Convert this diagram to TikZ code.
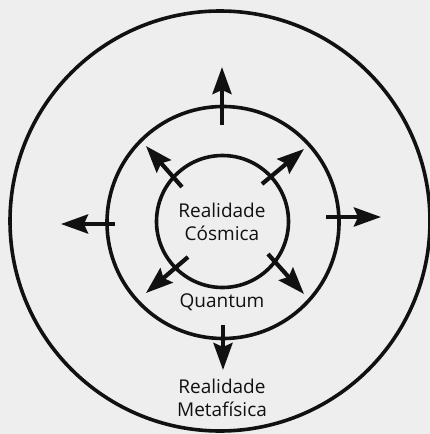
\documentclass[tikz,border=0pt]{standalone}
\usepackage{fontspec}
\setmainfont{Open Sans}
\usetikzlibrary{arrows.meta}
\definecolor{bg}{HTML}{EEEEEE}
\definecolor{ink}{HTML}{111111}
\begin{document}
\begin{tikzpicture}[x=1pt,y=-1pt,
  ring/.style={draw=ink,line width=3.6pt,circle,inner sep=0pt},
  outarrow/.style={draw=ink,line width=4.2pt,-{Stealth[length=27pt,width=19pt,inset=4pt]}},
  lbl/.style={text=ink,font=\fontsize{19}{23}\selectfont,align=center,inner sep=0pt}]
\fill[bg] (0,0) rectangle (430,434);
\useasboundingbox (0,0) rectangle (430,434);
\node[ring,minimum size=420pt] (outer) at (220,221) {};
\node[ring,minimum size=232pt] (middle) at (223,222.5) {};
\node[ring,minimum size=132pt] (inner) at (222.5,221.5) {};
% arrows
\coordinate (uT) at (222,125); \coordinate (uH) at (222,67);
\coordinate (dT) at (223,325); \coordinate (dH) at (223,370);
\coordinate (lT) at (115,224); \coordinate (lH) at (61,224);
\coordinate (rT) at (326,217); \coordinate (rH) at (381,217);
\coordinate (nwT) at (182,187); \coordinate (nwH) at (146,146);
\coordinate (neT) at (262,184); \coordinate (neH) at (304,149);
\coordinate (swT) at (188,257); \coordinate (swH) at (146,293);
\coordinate (seT) at (268,254); \coordinate (seH) at (304,294);
\draw[outarrow] (uT) -- (uH);
\draw[outarrow] (dT) -- (dH);
\draw[outarrow] (lT) -- (lH);
\draw[outarrow] (rT) -- (rH);
\draw[outarrow] (nwT) -- (nwH);
\draw[outarrow] (neT) -- (neH);
\draw[outarrow] (swT) -- (swH);
\draw[outarrow] (seT) -- (seH);
% labels
\node[lbl] (cosmica) at (222,222) {Realidade\\Cósmica};
\node[lbl] (quantum) at (222,302) {Quantum};
\node[lbl] (meta) at (222,398) {Realidade\\Metafísica};
\end{tikzpicture}
\end{document}
